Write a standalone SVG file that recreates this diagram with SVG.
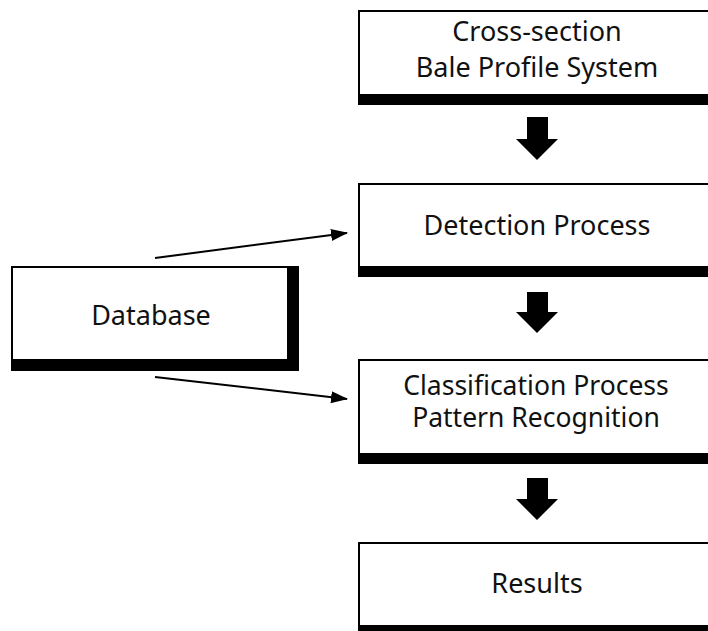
<svg xmlns="http://www.w3.org/2000/svg" width="708" height="631" viewBox="0 0 708 631">
<style>
.frame{fill:#000}
.face{fill:#fff}
.lbl{font-family:"Noto Sans","DejaVu Sans",sans-serif;font-size:27px;fill:#111;text-anchor:middle}
.conn{stroke:#000;stroke-width:2;fill:none}
.blk{fill:#000}
</style>
<defs>
<marker id="ah" markerUnits="userSpaceOnUse" markerWidth="17" markerHeight="12" refX="16" refY="6" orient="auto">
<path d="M0,0 L17,6 L0,12 z" fill="#000"/>
</marker>
</defs>
<rect width="708" height="631" fill="#fff"/>
<g id="node-crosssection">
<rect class="frame" x="358" y="10" width="362" height="95"/>
<rect class="face" x="360" y="12" width="360" height="82"/>
<text class="lbl" x="537" y="41">Cross-section</text>
<text class="lbl" x="537" y="77">Bale Profile System</text>
</g>
<g id="node-detection">
<rect class="frame" x="358" y="183" width="362" height="94"/>
<rect class="face" x="360" y="185" width="360" height="81"/>
<text class="lbl" x="537" y="235">Detection Process</text>
</g>
<g id="node-classification">
<rect class="frame" x="358" y="359" width="362" height="105"/>
<rect class="face" x="360" y="361" width="360" height="92"/>
<text class="lbl" x="536" y="395" style="font-size:26.5px">Classification Process</text>
<text class="lbl" x="536" y="427" style="font-size:26.5px">Pattern Recognition</text>
</g>
<g id="node-results">
<rect class="frame" x="358" y="542" width="362" height="100"/>
<rect class="face" x="360" y="544" width="360" height="81"/>
<text class="lbl" x="537" y="593">Results</text>
</g>
<g id="node-database">
<rect class="frame" x="11" y="266" width="288" height="105"/>
<rect class="face" x="13" y="268" width="274" height="91"/>
<text class="lbl" x="151" y="325">Database</text>
</g>
<g id="connectors">
<line class="conn" x1="155" y1="258" x2="347" y2="233" marker-end="url(#ah)"/>
<line class="conn" x1="155" y1="377" x2="347" y2="399" marker-end="url(#ah)"/>
<path class="blk" d="M527,117 H548 V139 H558 L537,160 L516,139 H527 Z"/>
<path class="blk" d="M527,292 H548 V312 H558 L537,333 L516,312 H527 Z"/>
<path class="blk" d="M527,478 H548 V499 H558 L537,520 L516,499 H527 Z"/>
</g>
</svg>
